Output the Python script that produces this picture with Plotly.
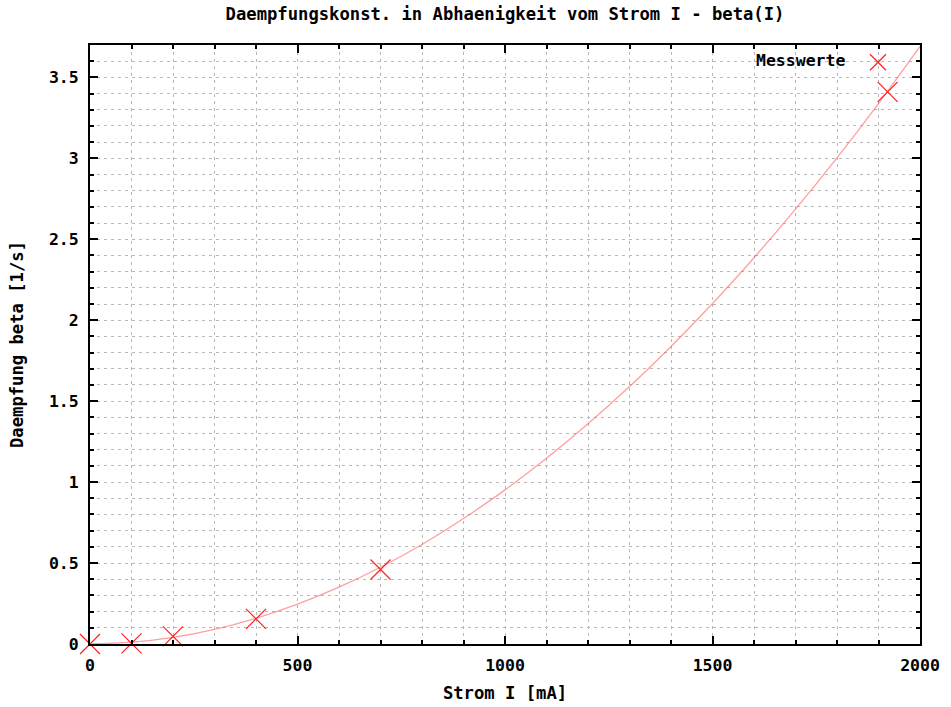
import plotly.graph_objects as go

# Measured values
strom_mA = [0, 100, 200, 400, 700, 1922]
beta_mess = [0.0, 0.004, 0.047, 0.155, 0.46, 3.41]

# Fit curve values (every 100 mA)
fit_I = [0, 100, 200, 300, 400, 500, 600, 700, 800, 900, 1000,
         1100, 1200, 1300, 1400, 1500, 1600, 1700, 1800, 1900, 2000]
fit_beta = [0.0, 0.011, 0.041, 0.091, 0.159, 0.246, 0.351, 0.474, 0.615, 0.775, 0.952,
            1.147, 1.360, 1.590, 1.838, 2.103, 2.386, 2.686, 3.003, 3.338, 3.691]

x_ticks = [0, 500, 1000, 1500, 2000]
x_ticklabels = ["0", "500", "1000", "1500", "2000"]
y_ticks = [0, 0.5, 1, 1.5, 2, 2.5, 3, 3.5]
y_ticklabels = ["0", "0.5", "1", "1.5", "2", "2.5", "3", "3.5"]

title_text = "Daempfungskonst. in Abhaenigkeit vom Strom I - beta(I)"
x_label = "Strom I [mA]"
y_label = "Daempfung beta [1/s]"
legend_label = "Messwerte"

FONT = "DejaVu Sans Mono"
FS = 16.5
FT = 17.2
W, H = 951, 707

fig = go.Figure()
fig.add_trace(go.Scatter(
    x=fit_I, y=fit_beta, mode="lines", line=dict(color="rgba(255,80,80,0.55)", width=1.3, shape="spline"),
    showlegend=False, hoverinfo="skip"))
fig.add_trace(go.Scatter(
    x=strom_mA, y=beta_mess, mode="markers", name="",
    marker=dict(symbol="x-thin", size=20, color="#ff2020", line=dict(color="#ff2020", width=1.2)),
    cliponaxis=False, showlegend=True))

grid = dict(showgrid=True, gridcolor="#b8b8b8", griddash="3px,4px", gridwidth=1)

fig.update_xaxes(
    range=[0, 2000], tickmode="array", tickvals=x_ticks,
    ticktext=["<b>" + t + "</b>" for t in x_ticklabels],
    ticks="inside", ticklen=8, tickwidth=1.5, tickcolor="black",
    showline=True, linecolor="black", linewidth=2, mirror="allticks",
    zeroline=False, ticklabelstandoff=5, automargin=False,
    tickfont=dict(family=FONT, size=FS, color="black"),
    minor=dict(dtick=100, tick0=0, ticks="inside", ticklen=4, tickcolor="black", **grid),
    **grid,
    title=dict(text="<b>" + x_label + "</b>", font=dict(family=FONT, size=FT, color="black"), standoff=13),
)
fig.update_yaxes(
    range=[0, 3.7], tickmode="array", tickvals=y_ticks,
    ticktext=["<b>" + t + "</b>" for t in y_ticklabels],
    ticks="inside", ticklen=8, tickwidth=1.5, tickcolor="black",
    showline=True, linecolor="black", linewidth=2, mirror="allticks",
    zeroline=False, ticklabelstandoff=6, automargin=False,
    tickfont=dict(family=FONT, size=FS, color="black"),
    minor=dict(dtick=0.1, tick0=0, ticks="inside", ticklen=4, tickcolor="black", **grid),
    **grid,
    title=dict(text="<b>" + y_label + "</b>", font=dict(family=FONT, size=FT, color="black"), standoff=21),
)

fig.update_layout(
    width=W, height=H,
    margin=dict(l=90, r=31, t=45, b=63, autoexpand=False),
    paper_bgcolor="white", plot_bgcolor="white",
    title=dict(text="<b>" + title_text + "</b>", xref="paper", x=0.5, xanchor="center",
               y=1 - 14 / H, yanchor="middle",
               font=dict(family=FONT, size=FT, color="black")),
    legend=dict(x=1 - 17 / 830, xanchor="right", y=1, yanchor="top", bgcolor="rgba(0,0,0,0)",
                font=dict(family=FONT, size=FS), itemsizing="trace"),
    annotations=[dict(text="<b>" + legend_label + "</b>", xref="paper", yref="paper", x=(847 - 90) / 830,
                      y=1 - 15 / 599, xanchor="right", yanchor="middle", showarrow=False,
                      font=dict(family=FONT, size=FS, color="black"))],
)

fig.write_html("out.html")
